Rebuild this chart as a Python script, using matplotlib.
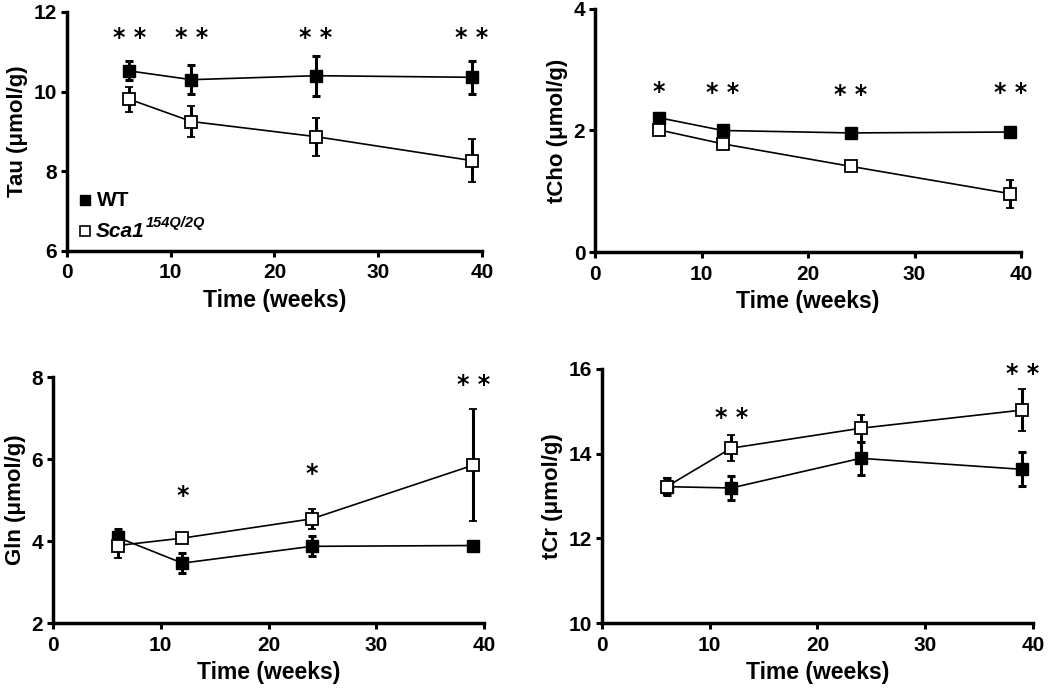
import matplotlib
matplotlib.use("Agg")
import matplotlib.pyplot as plt

plt.rcParams['font.family'] = ['Liberation Sans', 'DejaVu Sans']
plt.rcParams['font.weight'] = 'bold'

weeks = [6, 12, 24, 39]

# Tau
tau_wt = [10.52, 10.30, 10.40, 10.36]
tau_wt_err = [0.24, 0.37, 0.50, 0.42]
tau_sca = [9.81, 9.25, 8.87, 8.27]
tau_sca_err = [0.31, 0.38, 0.48, 0.55]
tau_stars = ["**", "**", "**", "**"]
tau_star_y = [11.35, 11.35, 11.35, 11.35]

# tCho
tcho_wt = [2.21, 2.00, 1.96, 1.975]
tcho_wt_err = [0.08, 0.05, 0.07, 0.05]
tcho_sca = [2.01, 1.78, 1.41, 0.96]
tcho_sca_err = [0.05, 0.06, 0.04, 0.23]
tcho_stars = ["*", "**", "**", "**"]
tcho_star_y = [2.64, 2.61, 2.58, 2.61]

# Gln
gln_wt = [4.09, 3.46, 3.87, 3.89]
gln_wt_err = [0.21, 0.25, 0.24, 0.05]
gln_sca = [3.89, 4.07, 4.54, 5.85]
gln_sca_err = [0.30, 0.08, 0.24, 1.37]
gln_stars = ["", "*", "*", "**"]
gln_star_y = [0, 5.09, 5.63, 7.81]

# tCr
tcr_wt = [13.22, 13.19, 13.89, 13.63]
tcr_wt_err = [0.20, 0.29, 0.39, 0.40]
tcr_sca = [13.22, 14.13, 14.60, 15.03]
tcr_sca_err = [0.20, 0.31, 0.32, 0.50]
tcr_stars = ["", "**", "", "**"]
tcr_star_y = [0, 14.85, 0, 15.87]

fig = plt.figure(figsize=(10.5, 6.91), dpi=100)

panels = [
    dict(rect=[0.0638, 0.6368, 0.3952, 0.3459], ylab="Tau (\u03bcmol/g)", ylim=(6, 12), yt=[6, 8, 10, 12],
         wt=tau_wt, wte=tau_wt_err, sc=tau_sca, sce=tau_sca_err, st=tau_stars, sty=tau_star_y, legend=True),
    dict(rect=[0.5667, 0.6353, 0.4057, 0.3517], ylab="tCho (\u03bcmol/g)", ylim=(0, 4), yt=[0, 2, 4],
         wt=tcho_wt, wte=tcho_wt_err, sc=tcho_sca, sce=tcho_sca_err, st=tcho_stars, sty=tcho_star_y, legend=False),
    dict(rect=[0.0505, 0.0984, 0.4105, 0.356], ylab="Gln (\u03bcmol/g)", ylim=(2, 8), yt=[2, 4, 6, 8],
         wt=gln_wt, wte=gln_wt_err, sc=gln_sca, sce=gln_sca_err, st=gln_stars, sty=gln_star_y, legend=False),
    dict(rect=[0.5733, 0.0984, 0.4105, 0.3676], ylab="tCr (\u03bcmol/g)", ylim=(10, 16), yt=[10, 12, 14, 16],
         wt=tcr_wt, wte=tcr_wt_err, sc=tcr_sca, sce=tcr_sca_err, st=tcr_stars, sty=tcr_star_y, legend=False),
]

for p in panels:
    ax = fig.add_axes(p["rect"])
    ax.errorbar(weeks, p["wt"], yerr=p["wte"], color='black', marker='s', markersize=9,
                markerfacecolor='black', markeredgecolor='black', linewidth=1.2,
                elinewidth=2.2, capsize=3, capthick=2.2, zorder=3, label='WT')
    ax.errorbar(weeks, p["sc"], yerr=p["sce"], color='black', marker='s', markersize=9,
                markerfacecolor='white', markeredgecolor='black', markeredgewidth=1.3, linewidth=1.2,
                elinewidth=2.2, capsize=3, capthick=2.2, zorder=4, label='Sca1')
    for x, s, y in zip(weeks, p["st"], p["sty"]):
        if s:
            ax.text(x, y, " ".join(s), ha='center', va='center', fontsize=17, fontweight='bold',
                    family='DejaVu Sans')
    ax.set_xlim(0, 40)
    ax.set_ylim(*p["ylim"])
    ax.set_xticks([0, 10, 20, 30, 40])
    ax.set_yticks(p["yt"])
    ax.spines['top'].set_visible(False)
    ax.spines['right'].set_visible(False)
    for sp in ['left', 'bottom']:
        ax.spines[sp].set_linewidth(2.5)
    ax.tick_params(direction='out', length=4, width=2.2, labelsize=15, pad=3)
    ax.tick_params(axis='x', pad=5)
    for lab in ax.get_xticklabels() + ax.get_yticklabels():
        lab.set_fontweight('bold')
    ax.set_xlabel("Time (weeks)", fontsize=16.5, fontweight='bold', labelpad=5)
    ax.set_ylabel(p["ylab"], fontsize=16, fontweight='bold', labelpad=4)
    for child in ax.get_children():
        try:
            child.set_clip_on(False)
        except Exception:
            pass
    if p["legend"]:
        ax.plot([1.73], [7.27], marker='s', markersize=7.5, color='black', linestyle='none', clip_on=False)
        ax.plot([1.73], [6.5], marker='s', markersize=7.5, markerfacecolor='white',
                markeredgecolor='black', markeredgewidth=1.2, linestyle='none', clip_on=False)
        ax.text(2.9, 7.27, "WT", fontsize=15, fontweight='bold', va='center', ha='left')
        t1 = ax.text(2.8, 6.5, "Sca1", fontsize=15, fontweight='bold', style='italic',
                     va='center', ha='left')
        ax.annotate("154Q/2Q", xy=(1.0, 0.55), xycoords=t1, xytext=(1, 0), textcoords='offset points',
                    fontsize=10.5, fontweight='bold', style='italic', va='bottom', ha='left')

fig.savefig("out.png", dpi=100)
